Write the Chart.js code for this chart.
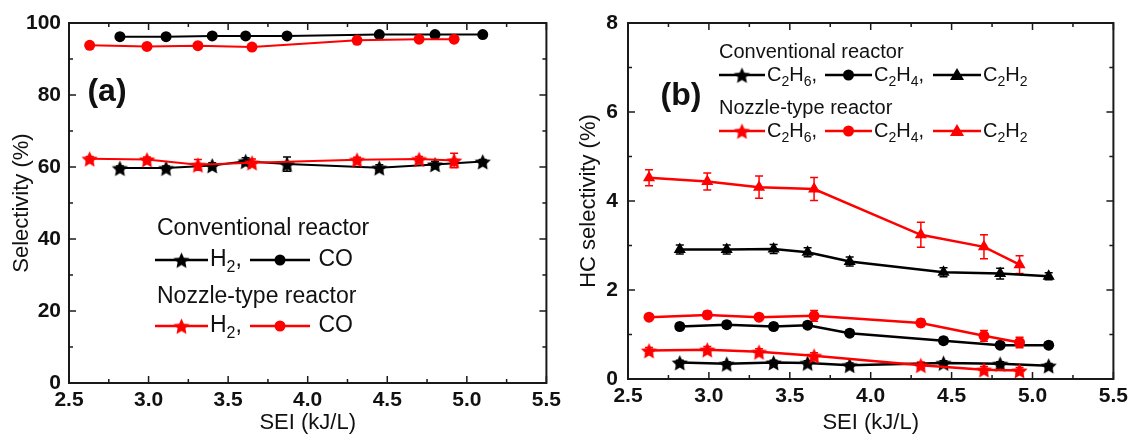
<!DOCTYPE html>
<html>
<head>
<meta charset="utf-8">
<script src="https://cdn.jsdelivr.net/npm/chart.js@4.4.1/dist/chart.umd.min.js"></script>
<style>
  html, body { margin: 0; padding: 0; background: #fff; overflow: hidden; }
  #wrap { position: relative; width: 1133px; height: 437px; }
  canvas { position: absolute; top: 0; }
  #chartA { left: 0; }
  #chartB { left: 566px; }
</style>
</head>
<body>
<div id="wrap">
  <canvas id="chartA" width="566" height="437"></canvas>
  <canvas id="chartB" width="567" height="437"></canvas>
</div>
<script>
// SEI (kJ/L) of each run
const seiConv = [2.82, 3.11, 3.40, 3.61, 3.87, 4.45, 4.80, 5.10];
const seiNozzle = [2.63, 2.99, 3.31, 3.65, 4.31, 4.70, 4.92];

// (a) H2 / CO selectivity (%)
const convH2 = [59.7, 59.7, 60.4, 61.6, 60.8, 59.8, 60.7, 61.5];
const convH2Err = [0.6, 0.6, 0.8, 1.0, 2.0, 0.8, 0.8, 0.6];
const convCO = [96.2, 96.2, 96.4, 96.4, 96.4, 96.8, 96.8, 96.8];
const convCOErr = [0.3, 0.3, 0.3, 0.3, 0.3, 0.3, 0.3, 0.3];
const nozH2 = [62.3, 62.1, 60.6, 61.2, 62.0, 62.2, 61.8];
const nozH2Err = [0.6, 0.7, 1.5, 1.0, 0.7, 0.7, 2.0];
const nozCO = [93.8, 93.5, 93.7, 93.3, 95.2, 95.5, 95.5];
const nozCOErr = [0.3, 0.3, 0.3, 0.3, 0.4, 0.3, 0.3];

// (b) HC selectivity (%)
const convC2H6 = [0.37, 0.34, 0.37, 0.36, 0.31, 0.36, 0.34, 0.30];
const convC2H6Err = [0.05, 0.05, 0.05, 0.05, 0.05, 0.05, 0.05, 0.05];
const convC2H4 = [1.18, 1.22, 1.18, 1.21, 1.03, 0.86, 0.76, 0.76];
const convC2H4Err = [0.07, 0.07, 0.07, 0.07, 0.07, 0.07, 0.07, 0.07];
const convC2H2 = [2.91, 2.91, 2.92, 2.85, 2.64, 2.40, 2.37, 2.31];
const convC2H2Err = [0.1, 0.1, 0.1, 0.1, 0.1, 0.1, 0.12, 0.08];
const nozC2H6 = [0.64, 0.66, 0.61, 0.52, 0.31, 0.21, 0.19];
const nozC2H6Err = [0.07, 0.07, 0.07, 0.07, 0.07, 0.07, 0.07];
const nozC2H4 = [1.39, 1.44, 1.39, 1.42, 1.26, 0.97, 0.82];
const nozC2H4Err = [0.06, 0.08, 0.07, 0.12, 0.08, 0.12, 0.12];
const nozC2H2 = [4.52, 4.44, 4.31, 4.27, 3.24, 2.97, 2.57];
const nozC2H2Err = [0.18, 0.19, 0.25, 0.26, 0.28, 0.27, 0.2];

// axis ticks
const xTicks = [2.5, 3.0, 3.5, 4.0, 4.5, 5.0, 5.5];
const yTicksA = [0, 20, 40, 60, 80, 100];
const yTicksB = [0, 2, 4, 6, 8];

const RED = '#ff0000';
const BLACK = '#000000';
const FONT = '"Liberation Sans", Arial, sans-serif';

// filled five-point star used as a point style
function starImage(color, r) {
  const c = document.createElement('canvas');
  const s = Math.ceil(r * 2 + 2);
  c.width = s; c.height = s;
  const g = c.getContext('2d');
  g.fillStyle = color;
  g.beginPath();
  for (let i = 0; i < 10; i++) {
    const rad = i % 2 === 0 ? r : r * 0.48;
    const a = -Math.PI / 2 + i * Math.PI / 5;
    g.lineTo(s / 2 + rad * Math.cos(a), s / 2 + 1 + rad * Math.sin(a));
  }
  g.closePath();
  g.fill();
  return c;
}
const starBlack = starImage(BLACK, 8.5);
const starRed = starImage(RED, 8.5);

const pts = (xs, ys) => xs.map((x, i) => ({ x: x, y: ys[i] }));

function series(xs, ys, errs, color, style, lw) {
  const isStar = style === 'star';
  return {
    data: pts(xs, ys),
    errorBars: errs,
    borderColor: color,
    backgroundColor: color,
    borderWidth: lw,
    showLine: true,
    pointStyle: isStar ? (color === RED ? starRed : starBlack) : style,
    pointRadius: style === 'triangle' ? 7 : 5.5,
    pointBorderWidth: 0,
    tension: 0
  };
}

// vertical error bars with caps, drawn under the markers
const errorBars = {
  id: 'errorBars',
  beforeDatasetsDraw(chart) {
    const ctx = chart.ctx;
    const y = chart.scales.y;
    ctx.save();
    chart.data.datasets.forEach((ds, di) => {
      if (!ds.errorBars) return;
      const meta = chart.getDatasetMeta(di);
      ctx.strokeStyle = ds.borderColor;
      ctx.lineWidth = 1.5;
      meta.data.forEach((pt, i) => {
        const v = ds.data[i].y, e = ds.errorBars[i];
        const top = y.getPixelForValue(v + e);
        const bot = y.getPixelForValue(v - e);
        ctx.beginPath();
        ctx.moveTo(pt.x, top); ctx.lineTo(pt.x, bot);
        ctx.moveTo(pt.x - 4, top); ctx.lineTo(pt.x + 4, top);
        ctx.moveTo(pt.x - 4, bot); ctx.lineTo(pt.x + 4, bot);
        ctx.stroke();
      });
    });
    ctx.restore();
  }
};

// closed frame with inward major and minor ticks on all four sides
const frameTicks = {
  id: 'frameTicks',
  afterDatasetsDraw(chart, args, opts) {
    const { ctx, chartArea: a, scales: { x, y } } = chart;
    ctx.save();
    ctx.strokeStyle = '#1a1a1a';
    ctx.lineWidth = 2;
    ctx.strokeRect(a.left, a.top, a.right - a.left, a.bottom - a.top);
    ctx.lineWidth = 1.5;
    ctx.beginPath();
    const nx = Math.round((x.max - x.min) / opts.xMinor);
    for (let i = 0; i <= nx; i++) {
      const px = x.getPixelForValue(x.min + i * opts.xMinor);
      const len = i % 2 === 0 ? 7 : 4;
      ctx.moveTo(px, a.bottom); ctx.lineTo(px, a.bottom - len);
      ctx.moveTo(px, a.top); ctx.lineTo(px, a.top + len);
    }
    const ny = Math.round((y.max - y.min) / opts.yMinor);
    for (let i = 0; i <= ny; i++) {
      const py = y.getPixelForValue(y.min + i * opts.yMinor);
      const len = i % 2 === 0 ? 7 : 4;
      ctx.moveTo(a.left, py); ctx.lineTo(a.left + len, py);
      ctx.moveTo(a.right, py); ctx.lineTo(a.right - len, py);
    }
    ctx.stroke();
    ctx.restore();
  }
};

// text with subscripts; parts starting with '_' are lowered and smaller
function drawRich(ctx, parts, x, y, size) {
  for (const p of parts) {
    const sub = p.startsWith('_');
    const t = sub ? p.slice(1) : p;
    ctx.font = (sub ? Math.round(size * 0.68) : size) + 'px ' + FONT;
    ctx.fillText(t, x, sub ? y + size * 0.34 : y);
    x += ctx.measureText(t).width;
  }
}

function drawMarker(ctx, kind, color, x, y) {
  ctx.fillStyle = color;
  if (kind === 'star') {
    const img = color === RED ? starRed : starBlack;
    ctx.drawImage(img, x - img.width / 2, y - img.height / 2);
  } else if (kind === 'circle') {
    ctx.beginPath(); ctx.arc(x, y, 5.5, 0, Math.PI * 2); ctx.fill();
  } else {
    ctx.beginPath();
    ctx.moveTo(x, y - 7); ctx.lineTo(x + 7, y + 5); ctx.lineTo(x - 7, y + 5);
    ctx.closePath(); ctx.fill();
  }
}

// hand-made key: heading lines and rows of line samples with labels
const keyBox = {
  id: 'keyBox',
  afterDraw(chart, args, opts) {
    const ctx = chart.ctx;
    ctx.save();
    ctx.textBaseline = 'middle';
    ctx.fillStyle = '#111';
    ctx.font = 'bold 32px ' + FONT;
    ctx.textAlign = 'center';
    ctx.fillText(opts.tag.text, opts.tag.x, opts.tag.y);
    ctx.textAlign = 'left';
    opts.items.forEach(it => {
      if (it.heading) {
        ctx.fillStyle = '#111';
        ctx.font = opts.size + 'px ' + FONT;
        ctx.fillText(it.heading, it.x, it.y);
        return;
      }
      ctx.strokeStyle = it.color;
      ctx.lineWidth = 2.5;
      ctx.beginPath(); ctx.moveTo(it.x0, it.y); ctx.lineTo(it.x1, it.y); ctx.stroke();
      drawMarker(ctx, it.marker, it.color, (it.x0 + it.x1) / 2, it.y);
      ctx.fillStyle = '#111';
      drawRich(ctx, it.label, it.x1 + 2, it.y, opts.size);
    });
    ctx.restore();
  }
};

function axes(yMin, yMax, yTicks, yTitle, yW, xH, yPad, titlePad) {
  const tickFont = { family: FONT, size: 21, weight: 'bold' };
  const titleFont = { family: FONT, size: 22, lineHeight: 1 };
  return {
    x: {
      type: 'linear', min: 2.5, max: 5.5,
      afterBuildTicks: s => { s.ticks = xTicks.map(v => ({ value: v })); },
      afterFit: s => { s.height = xH; },
      grid: { display: false, drawTicks: false },
      border: { display: false },
      ticks: { font: tickFont, color: '#111', padding: 5, maxRotation: 0,
               callback: v => v.toFixed(1) },
      title: { display: true, text: 'SEI (kJ/L)', font: titleFont, color: '#111',
               padding: { top: 0, bottom: 3 } }
    },
    y: {
      type: 'linear', min: yMin, max: yMax,
      afterBuildTicks: s => { s.ticks = yTicks.map(v => ({ value: v })); },
      afterFit: s => { s.width = yW; },
      grid: { display: false, drawTicks: false },
      border: { display: false },
      ticks: { font: tickFont, color: '#111', padding: yPad },
      title: { display: true, text: yTitle, font: titleFont, color: '#111',
               padding: { top: titlePad, bottom: 0 } }
    }
  };
}

Chart.defaults.animation = false;

new Chart(document.getElementById('chartA'), {
  type: 'scatter',
  data: {
    datasets: [
      series(seiNozzle, nozCO, nozCOErr, RED, 'circle', 2),
      series(seiNozzle, nozH2, nozH2Err, RED, 'star', 2),
      series(seiConv, convCO, convCOErr, BLACK, 'circle', 2),
      series(seiConv, convH2, convH2Err, BLACK, 'star', 2)
    ]
  },
  options: {
    responsive: false,
    layout: { padding: { left: 0, right: 14, top: 23, bottom: 0 } },
    scales: axes(0, 100, yTicksA, 'Selectivity (%)', 69, 54, 8, 11),
    plugins: {
      legend: { display: false },
      tooltip: { enabled: false },
      frameTicks: { xMinor: 0.25, yMinor: 10 },
      keyBox: {
        size: 23,
        tag: { text: '(a)', x: 107, y: 92 },
        items: [
          { heading: 'Conventional reactor', x: 157, y: 229 },
          { x0: 155, x1: 208, y: 260, color: BLACK, marker: 'star', label: ['H', '_2', ','] },
          { x0: 250, x1: 310, y: 260, color: BLACK, marker: 'circle', label: [' CO'] },
          { heading: 'Nozzle-type reactor', x: 157, y: 297 },
          { x0: 155, x1: 208, y: 326, color: RED, marker: 'star', label: ['H', '_2', ','] },
          { x0: 250, x1: 310, y: 326, color: RED, marker: 'circle', label: [' CO'] }
        ]
      }
    }
  },
  plugins: [errorBars, frameTicks, keyBox]
});

new Chart(document.getElementById('chartB'), {
  type: 'scatter',
  data: {
    datasets: [
      series(seiNozzle, nozC2H2, nozC2H2Err, RED, 'triangle', 2.5),
      series(seiNozzle, nozC2H4, nozC2H4Err, RED, 'circle', 2.5),
      series(seiNozzle, nozC2H6, nozC2H6Err, RED, 'star', 2.5),
      series(seiConv, convC2H2, convC2H2Err, BLACK, 'triangle', 2.5),
      series(seiConv, convC2H4, convC2H4Err, BLACK, 'circle', 2.5),
      series(seiConv, convC2H6, convC2H6Err, BLACK, 'star', 2.5)
    ]
  },
  options: {
    responsive: false,
    layout: { padding: { left: 0, right: 14, top: 23, bottom: 0 } },
    scales: axes(0, 8, yTicksB, 'HC selectivity (%)', 62, 58, 10, 12),
    plugins: {
      legend: { display: false },
      tooltip: { enabled: false },
      frameTicks: { xMinor: 0.25, yMinor: 1 },
      keyBox: {
        size: 20,
        tag: { text: '(b)', x: 115, y: 96 },
        items: [
          { heading: 'Conventional reactor', x: 153, y: 52 },
          { x0: 153, x1: 199, y: 75, color: BLACK, marker: 'star', label: ['C', '_2', 'H', '_6', ','] },
          { x0: 259, x1: 306, y: 75, color: BLACK, marker: 'circle', label: ['C', '_2', 'H', '_4', ','] },
          { x0: 367, x1: 415, y: 75, color: BLACK, marker: 'triangle', label: ['C', '_2', 'H', '_2'] },
          { heading: 'Nozzle-type reactor', x: 153, y: 108 },
          { x0: 153, x1: 199, y: 131, color: RED, marker: 'star', label: ['C', '_2', 'H', '_6', ','] },
          { x0: 259, x1: 306, y: 131, color: RED, marker: 'circle', label: ['C', '_2', 'H', '_4', ','] },
          { x0: 367, x1: 415, y: 131, color: RED, marker: 'triangle', label: ['C', '_2', 'H', '_2'] }
        ]
      }
    }
  },
  plugins: [errorBars, frameTicks, keyBox]
});
</script>
</body>
</html>
